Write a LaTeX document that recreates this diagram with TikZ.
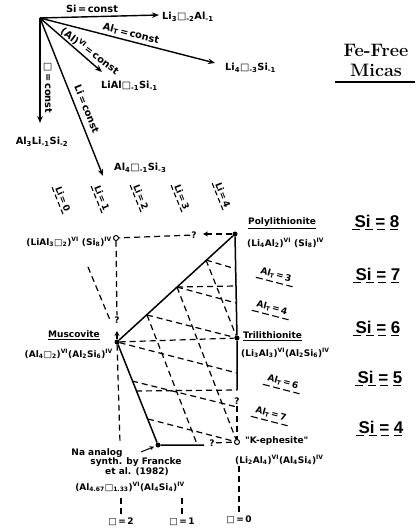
\documentclass[tikz,border=0pt]{standalone}
\usepackage{fontspec}
\newfontfamily\labfont{DejaVu Sans}
\newfontfamily\sifont{Liberation Sans}
\usetikzlibrary{arrows.meta}
\newcommand\tsb[1]{\textsubscript{#1}}
\newcommand\tsp[1]{\textsuperscript{#1}}
\begin{document}
\begin{tikzpicture}[x=1pt,y=-1pt,
 lab/.style={font=\labfont\bfseries\fontsize{9}{10}\selectfont, inner sep=1pt},
 albl/.style={font=\labfont\bfseries\fontsize{9.8}{10}\selectfont, inner sep=1pt},
 ax/.style={line width=1.4pt,-{Stealth[length=7pt,width=5.5pt]}},
 sol/.style={line width=1.5pt},
 dsh/.style={line width=1.2pt,dash pattern=on 6pt off 4pt},
 dot/.style={circle,fill,inner sep=0pt,minimum size=5pt},
 odot/.style={circle,draw,line width=1pt,fill=white,inner sep=0pt,minimum size=5pt},
 qm/.style={font=\labfont\bfseries\fontsize{9}{10}\selectfont, inner sep=1pt},
 ulSi/.style={append after command={(\tikzlastnode.south west) edge[draw,line width=1.3pt,dash pattern=on 8pt off 4.5pt] (\tikzlastnode.south east)}},
 ulLi/.style={append after command={(\tikzlastnode.south west) edge[draw,line width=1.1pt,dash pattern=on 5pt off 3pt] (\tikzlastnode.south east)}},
 ulAl/.style={append after command={(\tikzlastnode.south west) edge[draw,line width=1.1pt,dash pattern=on 7pt off 3.5pt] (\tikzlastnode.south east)}},
 sil/.style={font=\sifont\bfseries\fontsize{17}{18}\selectfont, inner sep=2pt, ulSi},
 lil/.style={lab, rotate=-68, inner sep=2pt, ulLi},
 all/.style={lab, rotate=-14.5, inner sep=3pt, ulAl}
]
\useasboundingbox (0,0) rectangle (415,529);

% ---- title
\node[font=\bfseries\fontsize{18}{20}\selectfont, align=center, inner sep=0pt] (title) at (376,60) {Fe-Free\\Micas};
\coordinate (tulA) at (335,82);
\coordinate (tulB) at (415,82);
\draw[line width=1.4pt] (tulA) -- (tulB);

% ---- vector diagram
\coordinate (O) at (40,18);
\coordinate (tipSi) at (159,15);
\coordinate (tipAlT) at (215,63);
\coordinate (tipAlVI) at (102,72);
\coordinate (tipBox) at (40,123);
\coordinate (tipLi) at (103,176);
\draw[ax] (O) -- (tipSi);
\draw[ax] (O) -- (tipAlT);
\draw[ax] (O) -- (tipAlVI);
\draw[ax] (O) -- (tipBox);
\draw[ax] (O) -- (tipLi);

\node[albl] (lSi) at (92,9) {Si\,=\,const};
\node[albl, rotate=-14.5] (lAlT) at (131,34) {Al\tsb{T}\,=\,const};
\node[albl, rotate=-37] (lAlVI) at (90,51) {(Al)\tsp{VI}\,=\,const};
\node[albl, rotate=-90] (lBox) at (48,88) {□\,=\,const};
\node[albl, rotate=-68] (lLi) at (87,109) {Li\,=\,const};

\node[albl, anchor=west] (tSi) at (161,17) {Li\tsb{3}□\tsb{-2}Al\tsb{-1}};
\node[albl, anchor=west] (tAlT) at (224,68) {Li\tsb{4}□\tsb{-3}Si\tsb{-1}};
\node[albl, anchor=west] (tAlVI) at (100,86) {LiAl□\tsb{-1}Si\tsb{-1}};
\node[albl] (tBox) at (42,142) {Al\tsb{3}Li\tsb{-1}Si\tsb{-2}};
\node[albl, anchor=west] (tLi) at (113,168) {Al\tsb{4}□\tsb{-1}Si\tsb{-3}};

% ---- Li labels
\node[lil] (li0) at (63,199) {Li\,=\,0};
\node[lil] (li1) at (102,198) {Li\,=\,1};
\node[lil] (li2) at (141,197) {Li\,=\,2};
\node[lil] (li3) at (182,197) {Li\,=\,3};
\node[lil] (li4) at (223,195) {Li\,=\,4};

% ---- Si labels
\node[sil] (si8) at (377,221) {Si = 8};
\node[sil] (si7) at (378,274) {Si = 7};
\node[sil] (si6) at (378,327) {Si = 6};
\node[sil] (si5) at (380,377) {Si = 5};
\node[sil] (si4) at (381,427) {Si = 4};

% ---- Al_T labels
\node[all] (al3) at (276,275) {Al\tsb{T}\,=\,3};
\node[all] (al4) at (272,308) {Al\tsb{T}\,=\,4};
\node[all] (al6) at (283,382) {Al\tsb{T}\,=\,6};
\node[all] (al7) at (271,414) {Al\tsb{T}\,=\,7};

% ---- key points
\node[dot] (P) at (235,234) {};
\node[dot] (T) at (237,338) {};
\node[dot] (M) at (117,342) {};
\node[dot] (N) at (158,445) {};
\node[odot] (L) at (116,238) {};
\node[odot] (K) at (237,442) {};
\coordinate (C5) at (237,390);
\coordinate (R3) at (204,445);
\coordinate (q1tip) at (117,331);
\coordinate (q2tip) at (203,234);
\node[qm] (q1) at (117,320) {?};
\node[qm] (q2) at (194,235) {?};
\node[qm] (q3) at (212,443) {?};
\node[qm] (q4) at (237,401) {?};

% grid intersection points
\coordinate (H3) at (206,260);
\coordinate (H2) at (177,287);
\coordinate (H1) at (147,315);
\coordinate (V7) at (236,286);
\coordinate (A3) at (236,269);
\coordinate (A4) at (236,303);
\coordinate (A6) at (237,373);
\coordinate (A7r) at (237,407);
\coordinate (A7) at (132,381);
\coordinate (S5) at (136,391);
\coordinate (A8) at (148,419);
\coordinate (B1) at (197,444);
\coordinate (E0a) at (88,267);
\coordinate (E0b) at (110,320);
\coordinate (mB) at (120,443);

% solid frame
\draw[sol] (M) -- (P);
\draw[sol] (P) -- (T) -- (C5);
\draw[sol] (M) -- (N) -- (R3);

% dashed grid
\draw[dsh] (H2) -- (V7);
\draw[dsh] (M) -- (T);
\draw[dsh] (S5) -- (C5);
\draw[dsh] (H3) -- (T);
\draw[dsh] (H2) -- (K);
\draw[dsh] (H1) -- (B1);
\draw[dsh] (E0a) -- (E0b);
\draw[dsh] (H3) -- (A3);
\draw[dsh] (H2) -- (A4);
\draw[dsh] (H1) -- (T);
\draw[dsh] (M) -- (A6);
\draw[dsh] (A7) -- (A7r);
\draw[dsh] (A8) -- (K);
\draw[dsh] (M) -- (mB);

% question-mark connectors
\draw[dsh] (L) -- (q1);
\draw[line width=1.2pt,-{Stealth[length=5pt,width=5pt]}] (M) -- (q1tip);
\draw[dsh,-{Stealth[length=5pt,width=5pt]}] (P) -- (q2tip);
\draw[dsh] (q2) -- (L);
\draw[dsh] (q3) -- (K);
\draw[dsh] (q4) -- (K);

% ---- end-member labels
\node[lab, anchor=west] (nPoly) at (247,223) {\underline{Polylithionite}};
\node[lab, anchor=west] (fPoly) at (246,243) {(Li\tsb{4}Al\tsb{2})\tsp{VI} (Si\tsb{8})\tsp{IV}};
\node[lab, anchor=east] (fL) at (113,242) {(LiAl\tsb{3}□\tsb{2})\tsp{VI} (Si\tsb{8})\tsp{IV}};
\node[lab] (nMus) at (74,335) {\underline{Muscovite}};
\node[lab, anchor=east] (fMus) at (114,354) {(Al\tsb{4}□\tsb{2})\tsp{VI}(Al\tsb{2}Si\tsb{6})\tsp{IV}};
\node[lab, anchor=west] (nTri) at (242,336) {\underline{Trilithionite}};
\node[lab, anchor=west] (fTri) at (240,353) {(Li\tsb{3}Al\tsb{3})\tsp{VI}(Al\tsb{2}Si\tsb{6})\tsp{IV}};
\node[lab, anchor=west] (nK) at (244,441) {"K-ephesite"};
\node[lab, anchor=west] (fK) at (234,460) {(Li\tsb{2}Al\tsb{4})\tsp{VI}(Al\tsb{4}Si\tsb{4})\tsp{IV}};

\node[lab] (na1) at (97,453) {Na analog};
\node[lab] (na2) at (136,462) {synth. by Francke};
\node[lab] (na3) at (137,472) {et al. (1982)};
\node[lab] (fNa) at (130,487) {(Al\tsb{4.67}□\tsb{1.33})\tsp{VI}(Al\tsb{4}Si\tsb{4})\tsp{IV}};
\coordinate (naA) at (141,452);
\draw[line width=1pt,-{Stealth[length=4.5pt,width=4pt]},shorten >=1.5pt] (naA) -- (N);

\node[lab] (b2) at (121,522) {□\,=\,2};
\node[lab] (b1) at (182,522) {□\,=\,1};
\node[lab] (b0) at (239,520) {□\,=\,0};
\draw[dsh,shorten <=5pt] (fNa.south -| b2) -- (b2);
\draw[dsh,shorten <=5pt] (fNa.south -| b1) -- (b1);
\draw[dsh] (fK.south -| b0) -- (b0);
\end{tikzpicture}
\end{document}
